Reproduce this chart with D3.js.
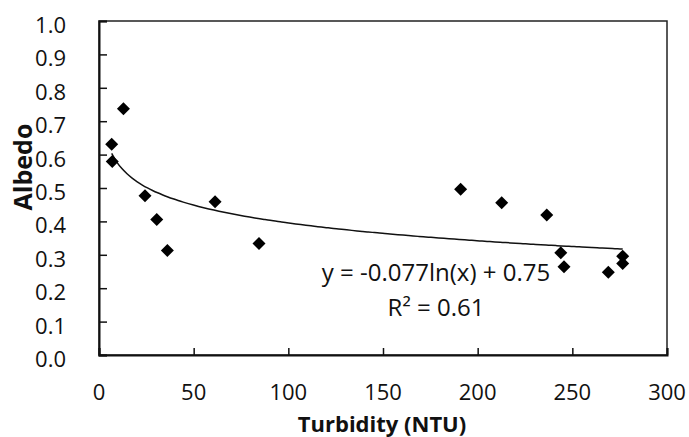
<!DOCTYPE html>
<html>
<head>
<meta charset="utf-8">
<script src="https://cdn.jsdelivr.net/npm/d3@7"></script>
<style>
    body { margin: 0; background: #fff; }
    svg { display: block; font-family: "Open Sans", sans-serif; }
</style>
</head>
<body>
<svg width="689" height="437"></svg>
<script>
// measured points (turbidity NTU, albedo)
var turbidity = [6.7, 7.0, 12.9, 24.3, 30.5, 36.1, 61.3, 84.5, 191.0, 212.7, 236.5, 243.9, 245.6, 269.0, 276.6, 276.6];
var albedo = [0.631, 0.579, 0.737, 0.477, 0.406, 0.313, 0.459, 0.334, 0.496, 0.456, 0.419, 0.306, 0.264, 0.248, 0.296, 0.274];

var xTicks = [0, 50, 100, 150, 200, 250, 300];
var yTicks = [0, 0.1, 0.2, 0.3, 0.4, 0.5, 0.6, 0.7, 0.8, 0.9, 1.0];

// log trendline as printed on the chart
var trendSlope = -0.077;
var trendIntercept = 0.75;
var trendLabel = "y = -0.077ln(x) + 0.75";
var r2Label = "R\u00b2 = 0.61";

var svg = d3.select("svg");

var x = d3.scaleLinear().domain([0, 300]).range([99, 667]);
var y = d3.scaleLinear().domain([0, 1]).range([355, 21]);

// frame around plot area
svg.append("rect")
    .attr("x", x(0))
    .attr("y", y(1))
    .attr("width", x(300) - x(0))
    .attr("height", y(0) - y(1))
    .attr("fill", "none")
    .attr("stroke", "#222")
    .attr("stroke-width", 1.5);

// axes, ticks point inward
var xAxis = svg.append("g")
    .attr("transform", "translate(0," + y(0) + ")")
    .call(d3.axisTop(x).tickValues(xTicks).tickSize(7).tickFormat(""));
var yAxis = svg.append("g")
    .attr("transform", "translate(" + x(0) + ",0)")
    .call(d3.axisRight(y).tickValues(yTicks).tickSize(8).tickFormat(""));

[xAxis, yAxis].forEach(function (g) {
    g.select(".domain").attr("stroke", "#111").attr("stroke-width", 2);
    g.selectAll(".tick line").attr("stroke", "#111").attr("stroke-width", 1.5);
});

// tick labels
svg.append("g").selectAll("text")
    .data(xTicks)
    .enter().append("text")
    .attr("x", function (d) { return x(d); })
    .attr("y", 400)
    .attr("text-anchor", "middle")
    .attr("font-size", 22)
    .attr("fill", "#111")
    .text(function (d) { return d; });

svg.append("g").selectAll("text")
    .data(yTicks)
    .enter().append("text")
    .attr("x", 66)
    .attr("y", function (d) { return y(d) + 12; })
    .attr("text-anchor", "end")
    .attr("font-size", 22)
    .attr("fill", "#111")
    .text(function (d) { return d.toFixed(1); });

// axis titles
svg.append("text")
    .attr("x", 382)
    .attr("y", 432)
    .attr("text-anchor", "middle")
    .attr("font-size", 22)
    .attr("font-weight", "bold")
    .attr("fill", "#111")
    .text("Turbidity (NTU)");

svg.append("text")
    .attr("transform", "translate(32,167) rotate(-90)")
    .attr("text-anchor", "middle")
    .attr("font-size", 25)
    .attr("font-weight", "bold")
    .attr("fill", "#111")
    .text("Albedo");

// trendline over data range
var xMin = d3.min(turbidity), xMax = d3.max(turbidity);
var trendX = d3.range(0, 101).map(function (i) { return xMin + (xMax - xMin) * i / 100; });
var line = d3.line()
    .x(function (d) { return x(d); })
    .y(function (d) { return y(trendSlope * Math.log(d) + trendIntercept); })
    .curve(d3.curveMonotoneX);

svg.append("path")
    .datum(trendX)
    .attr("d", line)
    .attr("fill", "none")
    .attr("stroke", "#111")
    .attr("stroke-width", 1.5);

// diamonds
var diamond = "M0,-6.5L6.5,0L0,6.5L-6.5,0Z";
svg.append("g").selectAll("path")
    .data(turbidity)
    .enter().append("path")
    .attr("d", diamond)
    .attr("transform", function (d, i) { return "translate(" + x(d) + "," + y(albedo[i]) + ")"; })
    .attr("fill", "#000");

// equation labels
svg.append("text")
    .attr("x", 436)
    .attr("y", 281)
    .attr("text-anchor", "middle")
    .attr("font-size", 24)
    .attr("fill", "#111")
    .text(trendLabel);

svg.append("text")
    .attr("x", 436)
    .attr("y", 316)
    .attr("text-anchor", "middle")
    .attr("font-size", 24)
    .attr("fill", "#111")
    .text(r2Label);
</script>
</body>
</html>
